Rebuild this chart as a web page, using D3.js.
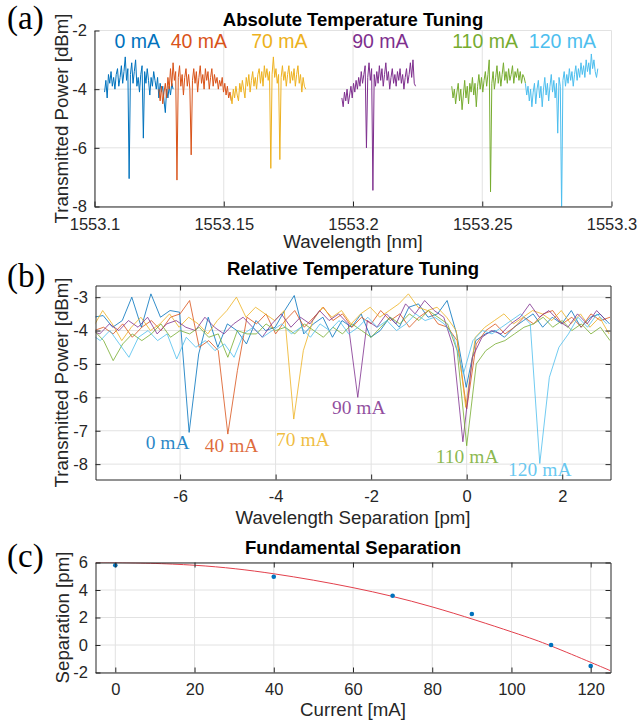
<!DOCTYPE html>
<html lang="en">
<head>
<meta charset="utf-8">
<title>Temperature Tuning</title>
<script src="https://cdn.jsdelivr.net/npm/d3@7/dist/d3.min.js"></script>
<style>
body { margin: 0; background: #fff; }
svg { display: block; }
</style>
</head>
<body>
<script>
// trace names and colours (same order in every panel)
var currents = ["0 mA", "40 mA", "70 mA", "90 mA", "110 mA", "120 mA"];
var colors = ["#0072BD", "#D95319", "#EDB120", "#7E2F8E", "#77AC30", "#4DBEEE"];

// (a) absolute spectra: first wavelength [nm] of each trace, sample step [nm], power [dBm]
var absStart = [1553.1039, 1553.1249, 1553.1527, 1553.1957, 1553.2382, 1553.2667];
var absStep = 0.0005;
var abs0 = [-4.1,-3.7,-4.3,-3.5,-3.8,-3.4,-3.9,-3.6,-4.0,-3.5,-3.3,-3.9,-3.6,-3.2,-3.8,-3.4,-2.9,-3.7,-3.3,-7.05,
  -3.5,-3.1,-3.8,-3.4,-3.0,-3.9,-3.6,-4.1,-3.5,-3.2,-5.67,-3.4,-3.8,-3.3,-3.7,-4.2,-3.6,-3.9,-3.4,-3.7,
  -4.0,-3.6,-4.3,-3.8,-4.1,-3.9,-4.4,-4.8,-4.0,-4.3,-3.9,-4.2,-3.8,-4.0];
var abs40 = [-4.0,-4.4,-3.9,-4.5,-4.1,-3.8,-4.3,-3.6,-4.0,-3.3,-3.9,-3.1,-3.7,-3.4,-7.1,-3.6,-3.2,-3.9,-3.5,-4.2,
  -3.6,-3.3,-3.9,-3.5,-4.0,-6.24,-3.7,-3.3,-3.8,-3.4,-4.1,-3.6,-3.2,-3.8,-3.5,-4.0,-3.3,-3.7,-3.4,-4.0,
  -3.6,-3.3,-3.9,-3.5,-3.8,-3.6,-4.0,-3.7,-3.9,-3.6,-4.1,-3.8,-4.2,-3.9,-4.3,-4.1,-4.4];
var abs70 = [-4.2,-4.5,-4.0,-4.3,-3.9,-4.2,-4.4,-3.8,-4.1,-3.7,-4.0,-4.3,-3.6,-3.9,-3.5,-4.1,-3.7,-3.4,-3.9,-3.6,
  -4.0,-3.5,-3.3,-3.8,-3.4,-3.9,-3.2,-3.6,-3.3,-3.7,-3.4,-6.7,-3.5,-2.9,-3.6,-3.3,-3.8,-3.5,-6.4,-3.6,
  -3.2,-3.7,-3.4,-3.9,-3.5,-3.2,-3.8,-3.4,-3.7,-3.3,-3.9,-3.5,-3.2,-3.8,-3.5,-4.1,-3.6,-3.9,-4.0];
var abs90 = [-4.3,-4.6,-4.1,-4.4,-4.0,-4.5,-4.2,-3.9,-4.3,-3.8,-4.1,-3.7,-4.0,-3.6,-3.9,-3.4,-3.8,-3.5,-3.2,-6.0,
  -3.6,-3.1,-3.7,-3.3,-7.45,-3.5,-3.9,-3.4,-3.8,-3.2,-3.7,-3.3,-3.9,-3.5,-3.1,-3.7,-3.4,-4.0,-3.6,-3.3,
  -3.8,-3.5,-3.9,-3.4,-3.7,-3.3,-3.8,-3.5,-4.0,-3.6,-3.3,-3.8,-3.5,-3.1,-3.6,-3.0,-3.8,-3.9];
var abs110 = [-3.9,-4.3,-4.0,-4.5,-4.1,-3.8,-4.4,-4.0,-4.7,-4.2,-3.7,-4.3,-3.9,-4.5,-3.8,-4.1,-3.6,-4.2,-3.8,-4.6,
  -3.9,-3.5,-4.0,-3.6,-4.1,-3.7,-3.4,-3.9,-3.5,-3.0,-7.5,-3.8,-3.4,-4.0,-3.6,-3.2,-3.8,-3.4,-3.9,-3.5,
  -3.1,-3.7,-3.4,-3.8,-3.3,-3.7,-3.5,-3.2,-3.8,-3.4,-3.6,-3.3,-3.7,-3.4,-3.8,-3.5,-3.6,-3.8];
var abs120 = [-3.8,-4.2,-3.9,-4.4,-4.0,-4.6,-4.1,-3.8,-4.5,-4.0,-3.7,-4.3,-3.9,-4.6,-4.0,-3.6,-4.2,-3.8,-4.4,-3.9,
  -3.5,-4.1,-3.7,-4.3,-3.8,-5.5,-3.6,-3.9,-8.2,-3.7,-3.4,-3.9,-3.5,-3.8,-3.3,-3.7,-3.4,-3.9,-3.5,-3.2,
  -3.7,-3.3,-3.6,-3.1,-3.5,-3.2,-3.6,-3.0,-3.4,-3.1,-3.5,-2.8,-3.3,-3.0,-3.4,-3.6,-3.3];
var absPower = [abs0, abs40, abs70, abs90, abs110, abs120];
var absLabelX = [1553.1165, 1553.1404, 1553.1715, 1553.2106, 1553.2511, 1553.2810];
var absLabelY = -2.58;
var absTicksX = [1553.1, 1553.15, 1553.2, 1553.25, 1553.3];
var absTickLabels = ["1553.1", "1553.15", "1553.2", "1553.25", "1553.3"];
var absTicksY = [-8, -6, -4, -2];

// (b) spectra relative to the fundamental: first offset [pm], step [pm], per-trace shift [pm]
var relStart = -7.8;
var relStep = 0.2;
var relShift = [-0.01, 0, -0.02, -0.08, 0, -0.07];
var rel0 = [-3.6,-3.55,-3.9,-3.7,-3.0,-3.9,-2.9,-3.6,-3.4,-3.45,-7.05,-4.7,-3.6,-4.5,-3.8,-4.0,-4.4,-3.7,-4.0,-3.9,
  -3.4,-2.95,-4.1,-3.8,-3.6,-4.2,-3.7,-3.9,-3.5,-4.2,-4.0,-3.6,-3.9,-3.3,-3.2,-3.6,-3.5,-3.1,-4.1,-5.7,
  -4.3,-4.1,-4.0,-4.2,-3.9,-3.7,-3.5,-3.9,-3.6,-3.8,-3.4,-3.9,-3.6,-3.5,-3.8];
var rel40 = [-4.0,-3.9,-4.1,-3.8,-4.2,-3.9,-3.7,-4.0,-3.6,-3.5,-3.1,-4.5,-4.3,-4.6,-7.1,-5.2,-3.6,-3.8,-3.5,-4.1,
  -3.7,-3.4,-3.9,-3.6,-3.3,-3.7,-3.5,-3.9,-3.6,-3.8,-3.4,-3.7,-3.5,-3.9,-3.6,-3.4,-3.8,-3.9,-4.3,-6.35,
  -4.4,-4.0,-3.8,-4.1,-3.9,-3.6,-3.8,-3.5,-3.4,-3.8,-3.6,-3.9,-3.5,-3.7,-3.6];
var rel70 = [-3.9,-3.4,-3.8,-4.3,-3.9,-3.6,-4.0,-3.8,-3.5,-3.9,-3.6,-3.8,-4.1,-3.7,-3.4,-3.0,-3.6,-3.3,-3.5,-3.7,
  -3.4,-6.65,-4.6,-3.7,-3.3,-3.6,-3.4,-3.8,-3.5,-3.3,-3.6,-3.4,-3.2,-2.9,-3.3,-3.4,-3.3,-3.6,-4.0,-6.3,
  -4.2,-3.9,-3.7,-3.5,-3.8,-3.6,-3.4,-3.5,-3.7,-3.4,-3.8,-3.5,-3.9,-3.6,-4.1];
var rel90 = [-4.0,-4.1,-3.8,-4.0,-3.7,-3.9,-3.6,-4.1,-3.8,-3.7,-3.9,-4.0,-3.6,-3.9,-4.1,-3.8,-3.6,-3.9,-4.2,-3.8,
  -3.5,-3.9,-3.6,-3.8,-3.4,-3.7,-3.5,-3.8,-6.0,-3.7,-3.9,-3.5,-3.8,-3.2,-3.5,-3.1,-3.4,-3.6,-4.5,-7.33,
  -4.8,-4.2,-4.0,-4.1,-3.8,-3.6,-3.2,-3.6,-3.4,-3.7,-3.9,-3.5,-3.8,-3.4,-3.7];
var rel110 = [-4.0,-4.3,-4.9,-4.4,-4.1,-4.3,-4.1,-3.8,-4.2,-4.0,-4.1,-3.9,-4.2,-4.1,-4.8,-4.0,-4.1,-4.1,-3.8,-4.0,
  -3.9,-4.1,-3.8,-4.0,-4.2,-3.9,-4.1,-3.8,-4.0,-4.2,-3.9,-3.6,-3.8,-3.5,-3.7,-3.4,-3.6,-3.8,-4.6,-7.45,
  -5.0,-4.6,-4.4,-4.3,-4.1,-3.9,-3.8,-3.6,-3.9,-3.7,-4.0,-3.8,-4.1,-3.9,-4.3];
var rel120 = [-4.1,-4.3,-4.0,-4.4,-4.8,-4.2,-4.0,-4.3,-4.1,-4.85,-4.2,-4.5,-4.3,-4.6,-4.4,-4.8,-4.1,-3.9,-4.2,-4.0,
  -3.8,-4.1,-3.9,-4.2,-3.8,-4.0,-3.7,-4.1,-3.9,-3.6,-3.9,-3.7,-4.0,-3.8,-3.5,-3.7,-3.6,-3.8,-4.2,-5.3,
  -4.3,-4.0,-4.1,-3.9,-3.7,-3.5,-3.8,-7.98,-5.4,-4.5,-4.1,-3.6,-3.9,-3.5,-3.8];
var relPower = [rel0, rel40, rel70, rel90, rel110, rel120];
var relLabelX = [-6.26, -4.92, -3.43, -2.26, 0.01, 1.53];
var relLabelY = [-7.56, -7.63, -7.46, -6.51, -7.96, -8.36];
var relTicksX = [-6, -4, -2, 0, 2];
var relTicksY = [-8, -7, -6, -5, -4, -3];

// (c) measured separation and fitted curve
var sepCurrent = [0, 40, 70, 90, 110, 120];
var sepValue = [5.8, 4.96, 3.58, 2.25, 0.0, -1.53];
var fitCurrent = [-5, 0, 20, 40, 60, 80, 100, 110, 120, 125];
var fitValue = [5.99, 6.0, 5.8, 5.18, 4.17, 2.77, 0.96, -0.07, -1.26, -1.87];
var sepTicksX = [0, 20, 40, 60, 80, 100, 120];
var sepTicksY = [-2, 0, 2, 4, 6];

var W = 639, H = 724;
var axisColor = "#262626", gridColor = "#e2e2e2";
var sans = "'Liberation Sans', Arial, Helvetica, sans-serif";
var serif = "'Liberation Serif', 'Times New Roman', serif";
var tickFont = 16.5, labelFont = 18.7;

var svg = d3.select("body").append("svg")
	.attr("width", W)
	.attr("height", H)
	.style("font-family", sans);

function plain(d){ return String(d); }

// draws grid, axes, labels and title of one panel, returns its scales
function drawPanel(p) {
	var x = d3.scaleLinear().domain(p.xDomain).range([p.left, p.right]);
	var y = d3.scaleLinear().domain(p.yDomain).range([p.bottom, p.top]);
	var cx = (p.left + p.right) / 2;

	// grid
	var grid = svg.append("g").attr("stroke", gridColor).attr("stroke-width", 1);
	grid.selectAll("line.gx").data(p.xTicks).enter().append("line")
		.attr("x1", function(d){ return x(d); }).attr("x2", function(d){ return x(d); })
		.attr("y1", p.top).attr("y2", p.bottom);
	grid.selectAll("line.gy").data(p.yTicks).enter().append("line")
		.attr("x1", p.left).attr("x2", p.right)
		.attr("y1", function(d){ return y(d); }).attr("y2", function(d){ return y(d); });

	// clip for the data
	svg.append("clipPath").attr("id", p.id)
		.append("rect")
		.attr("x", p.left).attr("y", p.top)
		.attr("width", p.right - p.left).attr("height", p.bottom - p.top);

	var layer = svg.append("g").attr("clip-path", "url(#" + p.id + ")");

	var axes = svg.append("g").attr("class", "axes");

	// bottom axis, ticks pointing in
	axes.append("g")
		.attr("transform", "translate(0," + p.bottom + ")")
		.call(d3.axisBottom(x).tickValues(p.xTicks)
			.tickFormat(p.xFormat || plain)
			.tickSizeInner(-5).tickSizeOuter(0).tickPadding(p.xPad || 10.3));
	// left axis
	axes.append("g")
		.attr("transform", "translate(" + p.left + ",0)")
		.call(d3.axisLeft(y).tickValues(p.yTicks).tickFormat(plain)
			.tickSizeInner(-5).tickSizeOuter(0).tickPadding(7.6));

	if (p.box) {
		axes.append("g")
			.attr("transform", "translate(0," + p.top + ")")
			.call(d3.axisTop(x).tickValues(p.xTicks).tickFormat("")
				.tickSizeInner(-5).tickSizeOuter(0));
		axes.append("g")
			.attr("transform", "translate(" + p.right + ",0)")
			.call(d3.axisRight(y).tickValues(p.yTicks).tickFormat("")
				.tickSizeInner(-5).tickSizeOuter(0));
	}

	axes.attr("color", axisColor);
	axes.selectAll("g").attr("font-family", sans);
	axes.selectAll("path.domain").attr("stroke-width", 1);
	axes.selectAll("text")
		.attr("font-size", tickFont)
		.attr("fill", axisColor);

	// axis labels
	svg.append("text")
		.attr("x", cx).attr("y", p.xLabelY)
		.attr("text-anchor", "middle")
		.attr("font-size", labelFont)
		.attr("fill", axisColor)
		.text(p.xLabel);
	svg.append("text")
		.attr("text-anchor", "middle")
		.attr("transform", "translate(" + p.yLabelX + "," + ((p.top + p.bottom) / 2) + ") rotate(-90)")
		.attr("font-size", labelFont)
		.attr("fill", axisColor)
		.text(p.yLabel);

	// title
	svg.append("text")
		.attr("x", cx).attr("y", p.titleY)
		.attr("text-anchor", "middle")
		.attr("font-size", 18.5)
		.attr("font-weight", "bold")
		.attr("fill", "#000")
		.text(p.title);

	// panel letter
	svg.append("text")
		.attr("x", 7).attr("y", p.letterY)
		.style("font-family", serif)
		.attr("font-size", 33)
		.attr("fill", "#000")
		.text(p.letter);

	return { x: x, y: y, layer: layer, axes: axes };
}

// ---------- (a) ----------
var pa = drawPanel({
	id: "clipA", left: 94.5, right: 611.5, top: 30.5, bottom: 206.5,
	xDomain: [1553.1, 1553.3], yDomain: [-8, -2],
	xTicks: absTicksX, yTicks: absTicksY,
	xFormat: function(d, i){ return absTickLabels[i]; },
	xPad: 11.5,
	box: false,
	xLabel: "Wavelength [nm]", xLabelY: 248,
	yLabel: "Transmitted Power [dBm]", yLabelX: 67.5,
	title: "Absolute Temperature Tuning", titleY: 25.5,
	letter: "(a)", letterY: 29
});

var lineA = d3.line()
	.x(function(d){ return pa.x(d[0]); })
	.y(function(d){ return pa.y(d[1]); });

absPower.forEach(function(vals, k){
	var pts = vals.map(function(v, i){ return [absStart[k] + i * absStep, v]; });
	pa.layer.append("path")
		.datum(pts)
		.attr("d", lineA)
		.attr("fill", "none")
		.attr("stroke", colors[k])
		.attr("stroke-width", 1)
		.attr("stroke-linejoin", "round");
});

svg.selectAll("text.labA").data(currents).enter().append("text")
	.attr("x", function(d, i){ return pa.x(absLabelX[i]); })
	.attr("y", pa.y(absLabelY))
	.attr("text-anchor", "middle")
	.attr("font-size", 19.5)
	.attr("fill", function(d, i){ return colors[i]; })
	.text(function(d){ return d; });

// ---------- (b) ----------
var pb = drawPanel({
	id: "clipB", left: 95.5, right: 610.5, top: 285.5, bottom: 479.5,
	xDomain: [-7.77, 3.01], yDomain: [-8.46, -2.65],
	xTicks: relTicksX, yTicks: relTicksY,
	box: true,
	xLabel: "Wavelength Separation [pm]", xLabelY: 524,
	yLabel: "Transmitted Power [dBm]", yLabelX: 67.5,
	title: "Relative Temperature Tuning", titleY: 275,
	letter: "(b)", letterY: 287
});

var lineB = d3.line()
	.x(function(d){ return pb.x(d[0]); })
	.y(function(d){ return pb.y(d[1]); });

relPower.forEach(function(vals, k){
	var pts = vals.map(function(v, i){ return [relStart + i * relStep + relShift[k], v]; });
	pb.layer.append("path")
		.datum(pts)
		.attr("d", lineB)
		.attr("fill", "none")
		.attr("stroke", colors[k])
		.attr("stroke-opacity", 0.8)
		.attr("stroke-width", 1)
		.attr("stroke-linejoin", "round");
});
pb.axes.raise();

svg.selectAll("text.labB").data(currents).enter().append("text")
	.attr("x", function(d, i){ return pb.x(relLabelX[i]); })
	.attr("y", function(d, i){ return pb.y(relLabelY[i]); })
	.attr("text-anchor", "middle")
	.style("font-family", serif)
	.attr("font-size", 19.5)
	.attr("fill", function(d, i){ return colors[i]; })
	.attr("fill-opacity", 0.85)
	.text(function(d){ return d; });

// ---------- (c) ----------
var pc = drawPanel({
	id: "clipC", left: 95.5, right: 610.5, top: 562.5, bottom: 672.5,
	xDomain: [-5, 125], yDomain: [-2, 6],
	xTicks: sepTicksX, yTicks: sepTicksY,
	box: true,
	xLabel: "Current [mA]", xLabelY: 716,
	yLabel: "Separation [pm]", yLabelX: 68.5,
	title: "Fundamental Separation", titleY: 554,
	letter: "(c)", letterY: 567
});

var fitLine = d3.line()
	.x(function(d){ return pc.x(d[0]); })
	.y(function(d){ return pc.y(d[1]); })
	.curve(d3.curveNatural);

pc.layer.append("path")
	.datum(fitCurrent.map(function(c, i){ return [c, fitValue[i]]; }))
	.attr("d", fitLine)
	.attr("fill", "none")
	.attr("stroke", "#e2404c")
	.attr("stroke-width", 1);

pc.layer.selectAll("circle")
	.data(sepCurrent)
	.enter()
	.append("circle")
	.attr("cx", function(d){ return pc.x(d); })
	.attr("cy", function(d, i){ return pc.y(sepValue[i]); })
	.attr("r", 2.3)
	.attr("fill", "#0072BD");
pc.axes.raise();
</script>
</body>
</html>
